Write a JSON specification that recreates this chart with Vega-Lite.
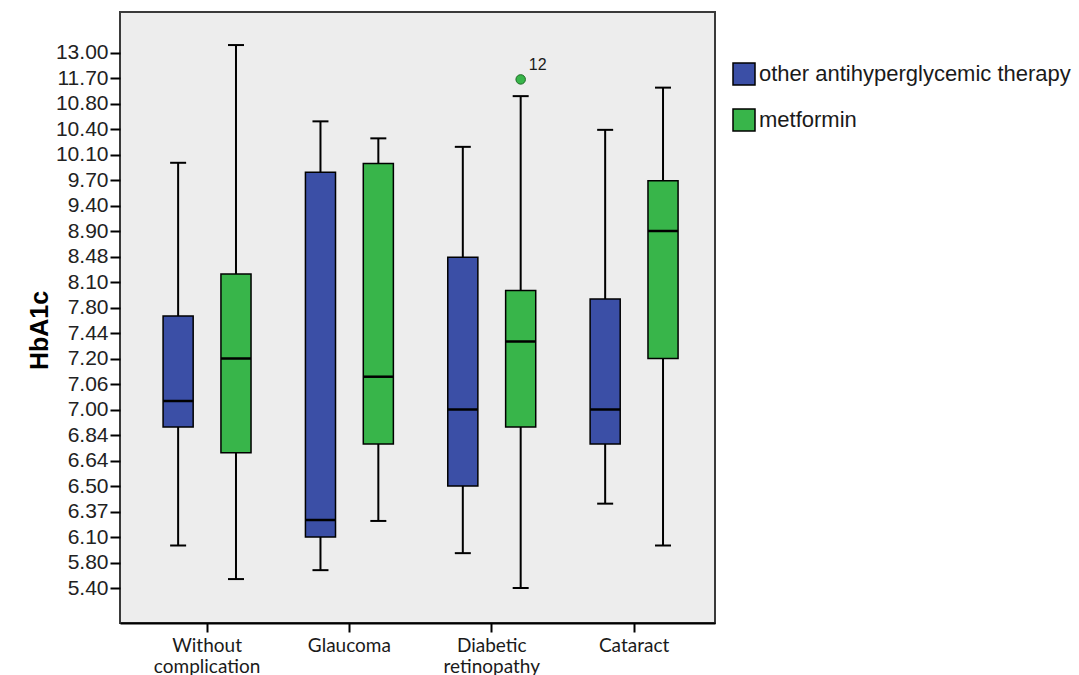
{
  "$schema": "https://vega.github.io/schema/vega-lite/v6.json",
  "autosize": {"type": "none"},
  "width": 595,
  "height": 611,
  "padding": {"left": 120, "top": 12, "right": 364, "bottom": 52},
  "background": "white",
  "view": {"fill": "#EDEDED", "stroke": "#3a3a3a", "strokeWidth": 2},
  "datasets": {
    "boxes": [
      {"complication": "Without complication", "therapy": "other antihyperglycemic therapy", "lo": 6.00, "q1": 6.89, "med": 7.02, "q3": 7.68, "hi": 9.97},
      {"complication": "Without complication", "therapy": "metformin", "lo": 5.54, "q1": 6.70, "med": 7.20, "q3": 8.22, "hi": 13.38},
      {"complication": "Glaucoma", "therapy": "other antihyperglycemic therapy", "lo": 5.68, "q1": 6.10, "med": 6.28, "q3": 9.82, "hi": 10.52},
      {"complication": "Glaucoma", "therapy": "metformin", "lo": 6.27, "q1": 6.77, "med": 7.10, "q3": 9.96, "hi": 10.29},
      {"complication": "Diabetic retinopathy", "therapy": "other antihyperglycemic therapy", "lo": 5.91, "q1": 6.50, "med": 7.00, "q3": 8.47, "hi": 10.19},
      {"complication": "Diabetic retinopathy", "therapy": "metformin", "lo": 5.40, "q1": 6.89, "med": 7.36, "q3": 8.00, "hi": 11.06},
      {"complication": "Cataract", "therapy": "other antihyperglycemic therapy", "lo": 6.41, "q1": 6.77, "med": 7.00, "q3": 7.90, "hi": 10.39},
      {"complication": "Cataract", "therapy": "metformin", "lo": 6.00, "q1": 7.20, "med": 8.90, "q3": 9.69, "hi": 11.36}
    ],
    "outliers": [
      {"complication": "Diabetic retinopathy", "therapy": "metformin", "value": 11.65, "case": "12"}
    ]
  },
  "encoding": {
    "x": {
      "field": "complication",
      "type": "nominal",
      "sort": ["Without complication", "Glaucoma", "Diabetic retinopathy", "Cataract"],
      "scale": {"domain": ["Without complication", "Glaucoma", "Diabetic retinopathy", "Cataract"], "paddingInner": 0, "paddingOuter": 0.09, "align": 0.62},
      "axis": {
        "title": null,
        "labelAngle": 0,
        "labelExpr": "split(datum.label, ' ')",
        "labelFont": "Lato",
        "labelFontSize": 19,
        "labelColor": "#1a1a1a",
        "labelLineHeight": 21,
        "labelPadding": 4,
        "tickSize": 9,
        "tickWidth": 2,
        "tickColor": "black",
        "domainColor": "black",
        "domainWidth": 2,
        "grid": false
      }
    },
    "xOffset": {
      "field": "therapy",
      "type": "nominal",
      "sort": ["other antihyperglycemic therapy", "metformin"],
      "scale": {"domain": ["other antihyperglycemic therapy", "metformin"], "paddingInner": 0.48, "paddingOuter": 0.47}
    }
  },
  "layer": [
    {
      "data": {"name": "boxes"},
      "mark": {"type": "rule", "color": "black", "strokeWidth": 2},
      "encoding": {
        "y": {
          "field": "lo",
          "type": "quantitative",
          "scale": {
            "domain": [5.40, 5.80, 6.10, 6.37, 6.50, 6.64, 6.84, 7.00, 7.06, 7.20, 7.44, 7.80, 8.10, 8.48, 8.90, 9.40, 9.70, 10.10, 10.40, 10.80, 11.70, 13.00],
            "range": [576, 550.5, 525, 499.5, 474, 448.5, 423, 397.5, 372, 346.5, 321, 295.5, 270, 244.5, 219, 193.5, 168, 142.5, 117, 91.5, 66, 40.5],
            "nice": false,
            "zero": false
          },
          "axis": {
            "values": [5.40, 5.80, 6.10, 6.37, 6.50, 6.64, 6.84, 7.00, 7.06, 7.20, 7.44, 7.80, 8.10, 8.48, 8.90, 9.40, 9.70, 10.10, 10.40, 10.80, 11.70, 13.00],
            "tickCount": 40,
            "format": ".2f",
            "grid": false,
            "domain": false,
            "labelOverlap": false,
            "tickSize": 10,
            "tickWidth": 2,
            "tickColor": "black",
            "labelFont": "Liberation Sans",
            "labelFontSize": 21,
            "labelColor": "#222222",
            "labelPadding": 2,
            "title": "HbA1c",
            "titleFont": "Liberation Sans",
            "titleFontSize": 25,
            "titleFontWeight": "bold",
            "titleColor": "black",
            "titleAngle": -90,
            "titleX": -68,
            "titleY": 318,
            "titleAlign": "center",
            "titleBaseline": "bottom"
          }
        },
        "y2": {"field": "hi"}
      }
    },
    {
      "data": {"name": "boxes"},
      "mark": {"type": "bar", "stroke": "black", "strokeWidth": 1.5},
      "encoding": {
        "y": {"field": "q1", "type": "quantitative"},
        "y2": {"field": "q3"},
        "color": {
          "field": "therapy",
          "type": "nominal",
          "scale": {"domain": ["other antihyperglycemic therapy", "metformin"], "range": ["#3B4FA6", "#38B54A"]},
          "legend": {
            "title": null,
            "orient": "none",
            "legendX": 612,
            "legendY": 50,
            "symbolType": "square",
            "symbolSize": 484,
            "symbolStrokeColor": "black",
            "symbolStrokeWidth": 1.5,
            "symbolOpacity": 1,
            "labelFont": "Liberation Sans",
            "labelFontSize": 22,
            "labelColor": "#1a1a1a",
            "labelOffset": 3,
            "labelLimit": 400,
            "rowPadding": 18,
            "padding": 0
          }
        }
      }
    },
    {
      "data": {"name": "boxes"},
      "mark": {"type": "tick", "color": "black", "size": 30, "thickness": 2.5, "opacity": 1},
      "encoding": {
        "y": {"field": "med", "type": "quantitative"}
      }
    },
    {
      "data": {"name": "boxes"},
      "mark": {"type": "tick", "color": "black", "size": 16, "thickness": 2, "opacity": 1},
      "encoding": {
        "y": {"field": "lo", "type": "quantitative"}
      }
    },
    {
      "data": {"name": "boxes"},
      "mark": {"type": "tick", "color": "black", "size": 16, "thickness": 2, "opacity": 1},
      "encoding": {
        "y": {"field": "hi", "type": "quantitative"}
      }
    },
    {
      "data": {"name": "outliers"},
      "mark": {"type": "point", "filled": true, "size": 90, "stroke": "#1d6b25", "strokeWidth": 1, "opacity": 1},
      "encoding": {
        "y": {"field": "value", "type": "quantitative"},
        "fill": {"field": "therapy", "type": "nominal", "scale": {"domain": ["other antihyperglycemic therapy", "metformin"], "range": ["#3B4FA6", "#38B54A"]}, "legend": null}
      }
    },
    {
      "data": {"name": "outliers"},
      "mark": {"type": "text", "dx": 17, "dy": -14, "font": "Liberation Sans", "fontSize": 16, "color": "#1a1a1a"},
      "encoding": {
        "y": {"field": "value", "type": "quantitative"},
        "text": {"field": "case"}
      }
    }
  ]
}
